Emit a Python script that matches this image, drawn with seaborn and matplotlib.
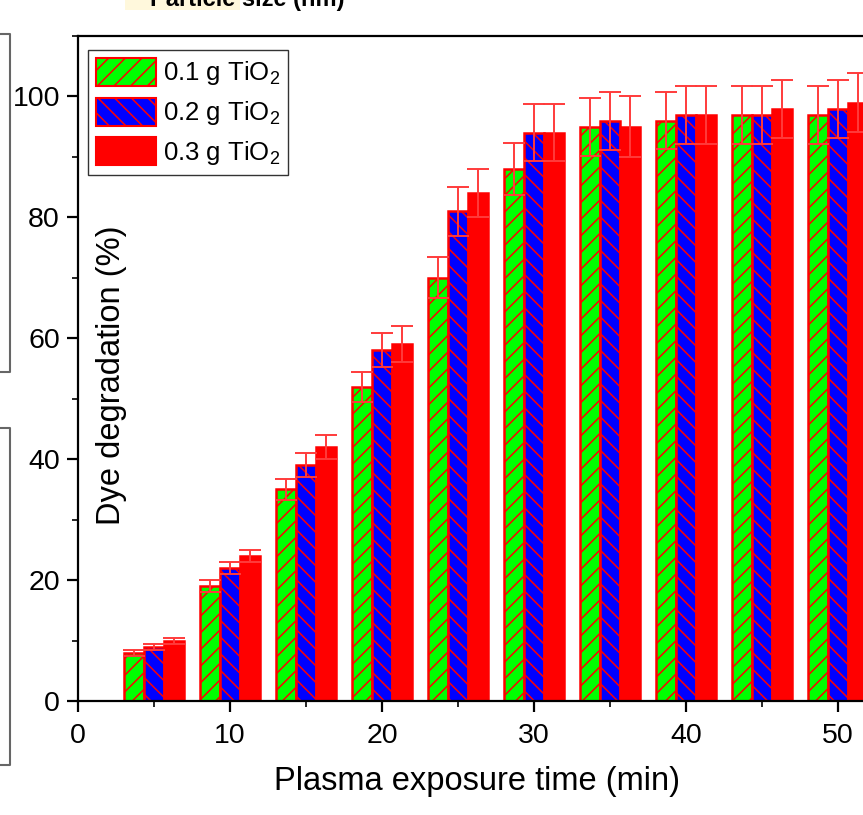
import numpy as np
import pandas as pd
import matplotlib
matplotlib.use('Agg')
import matplotlib.pyplot as plt
import seaborn as sns
from matplotlib.patches import Patch, Rectangle
from matplotlib.container import BarContainer
from matplotlib.ticker import MultipleLocator

# ─────────────────────────────────────────────
# data
# ─────────────────────────────────────────────
times = [5, 10, 15, 20, 25, 30, 35, 40, 45, 50]
doses = ['0.1 g TiO$_2$', '0.2 g TiO$_2$', '0.3 g TiO$_2$']

deg_01 = [8, 19, 35, 52, 70, 88, 95, 96, 97, 97]
deg_02 = [9, 22, 39, 58, 81, 94, 96, 97, 97, 98]
deg_03 = [10, 24, 42, 59, 84, 94, 95, 97, 98, 99]

err_01 = [0.5, 1.0, 1.8, 2.5, 3.4, 4.3, 4.8, 4.7, 4.8, 4.8]
err_02 = [0.5, 1.0, 2.0, 2.8, 4.0, 4.7, 4.8, 4.8, 4.8, 4.8]
err_03 = [0.5, 1.0, 2.0, 3.0, 4.0, 4.7, 5.0, 4.8, 4.8, 4.9]

face_colors = ['#00ff00', '#0000ff', '#ff0000']
hatches = ['//', '\\\\', '']

df = pd.DataFrame({
    'time': times * 3,
    'deg': deg_01 + deg_02 + deg_03,
    'dose': [doses[0]] * 10 + [doses[1]] * 10 + [doses[2]] * 10,
})
errs = [err_01, err_02, err_03]

# ─────────────────────────────────────────────
# style
# ─────────────────────────────────────────────
sns.set_theme(style='ticks')
plt.rcParams['font.family'] = ['Liberation Sans', 'DejaVu Sans']
plt.rcParams['mathtext.fontset'] = 'custom'
plt.rcParams['mathtext.rm'] = 'Liberation Sans'
plt.rcParams['mathtext.it'] = 'Liberation Sans:italic'
plt.rcParams['hatch.linewidth'] = 1.1
plt.rcParams['axes.linewidth'] = 1.6
plt.rcParams['text.color'] = 'black'
plt.rcParams['axes.labelcolor'] = 'black'

fig = plt.figure(figsize=(8.63, 8.15), dpi=100)
ax = fig.add_axes([78 / 863, 114 / 815, 798 / 863, 665 / 815])

sns.barplot(data=df, x='time', y='deg', hue='dose', native_scale=True,
            palette=face_colors, saturation=1, errorbar=None, legend=False,
            edgecolor='#ff0000', linewidth=1.8, ax=ax)

# hatch + error bars per hue
bar_conts = [c for c in ax.containers if isinstance(c, BarContainer)]
for i, cont in enumerate(bar_conts):
    xs = []
    for bar in cont.patches:
        bar.set_hatch(hatches[i])
        xs.append(bar.get_x() + bar.get_width() / 2)
    vals = [deg_01, deg_02, deg_03][i]
    ax.errorbar(xs, vals, yerr=errs[i], fmt='none', ecolor='#ff3b3b',
                elinewidth=1.4, capsize=8, capthick=1.4, zorder=5)

ax.set_xlim(0, 52.5)
ax.set_ylim(0, 110)
ax.xaxis.set_major_locator(MultipleLocator(10))
ax.xaxis.set_minor_locator(MultipleLocator(5))
ax.yaxis.set_major_locator(MultipleLocator(20))
ax.yaxis.set_minor_locator(MultipleLocator(10))
ax.tick_params(which='major', direction='out', length=8, width=1.6,
               labelsize=20.5, colors='black')
ax.tick_params(which='minor', direction='out', length=4.5, width=1.4)
ax.tick_params(axis='x', pad=8)
ax.tick_params(axis='y', pad=5)
for s in ax.spines.values():
    s.set_visible(True)
    s.set_color('black')

ax.set_xlabel('Plasma exposure time (min)', fontsize=23.5, labelpad=12)
ax.set_ylabel('Dye degradation (%)', fontsize=23.5)
ax.yaxis.label.set_va('center')
ax.yaxis.set_label_coords(34 / 798, 0.49)

handles = [Patch(facecolor=face_colors[k], edgecolor='#ff0000', hatch=hatches[k],
                 linewidth=1.5, label=doses[k]) for k in range(3)]
leg = ax.legend(handles=handles, loc='upper left',
                bbox_to_anchor=(10 / 798, 1 - 14 / 665), borderaxespad=0,
                fontsize=18.5, handlelength=2.35, handleheight=1.3,
                handletextpad=0.28, borderpad=0.3, labelspacing=0.4,
                fancybox=False, framealpha=1)
leg.get_frame().set_edgecolor('#333333')
leg.get_frame().set_linewidth(1.0)

# bits of the neighbouring panels visible in the screenshot
fig.patches.append(Rectangle((125 / 863, 1 - 10 / 815), 115 / 863, 10 / 815,
                             transform=fig.transFigure, facecolor='#fff8dc',
                             edgecolor='none', zorder=0))
fig.text(247 / 863, 1 - 6 / 815, 'Particle size (nm)', ha='center', va='baseline',
         fontsize=17, fontweight='bold', color='black')
box_kw = dict(color='#666666', linewidth=1.5, transform=fig.transFigure)
for y0, y1 in [(34, 372), (428, 765)]:
    fig.add_artist(plt.Line2D([0, 10 / 863, 10 / 863, 0],
                              [1 - y0 / 815, 1 - y0 / 815, 1 - y1 / 815, 1 - y1 / 815],
                              **box_kw))

fig.savefig('out.png', dpi=100)
